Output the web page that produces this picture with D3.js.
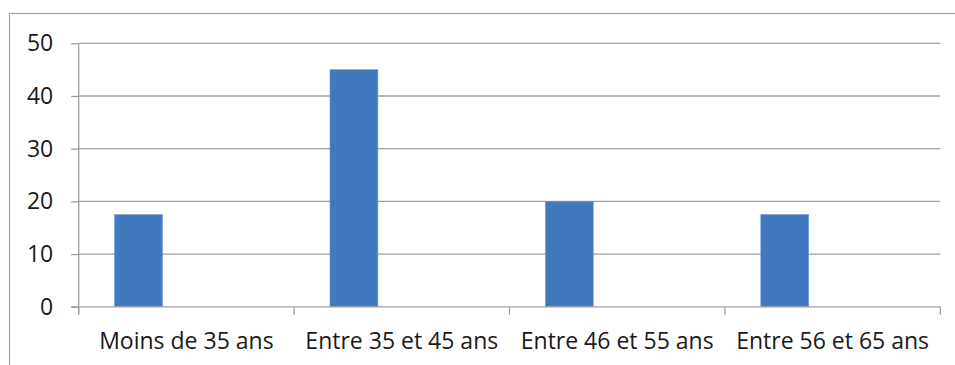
<!DOCTYPE html>
<html>
<head>
<meta charset="utf-8">
<script src="https://cdn.jsdelivr.net/npm/d3@7"></script>
<style>
  html, body { margin: 0; padding: 0; background: #fff; }
  svg { display: block; }
  text { font-family: "Open Sans", sans-serif; font-size: 23px; fill: #1a1a1a; }
</style>
</head>
<body>
<svg id="chart" width="955" height="365"></svg>
<script>
const categories = ["Moins de 35 ans", "Entre 35 et 45 ans", "Entre 46 et 55 ans", "Entre 56 et 65 ans"];
const seriesNames = ["Série1", "Série2", "Série3"];
const series1 = [17.5, 45, 20, 17.5];
const series2 = [0, 0, 0, 0];
const series3 = [0, 0, 0, 0];
const yTicks = [0, 10, 20, 30, 40, 50];

const svg = d3.select("#chart");
const gridColor = "#a0a0a3";

// outer frame
svg.append("rect")
  .attr("x", 9.5).attr("y", 13.5)
  .attr("width", 1000).attr("height", 400)
  .attr("fill", "none").attr("stroke", "#a6a6a6").attr("stroke-width", 1.2);

const pLeft = 78.7, pRight = 940.3, pTop = 43.3, pBottom = 306.8;

const y = d3.scaleLinear().domain([0, 50]).range([pBottom, pTop]);
const x = d3.scaleBand().domain(categories).range([pLeft, pRight]).padding(0);
const xs = d3.scaleBand().domain(seriesNames).range([0, x.bandwidth()])
  .paddingInner(0).paddingOuter(0.75);

// y ticks + labels
const yAxis = d3.axisLeft(y).tickValues(yTicks).tickSize(7.5).tickPadding(18).tickFormat(d3.format("d"));
const gy = svg.append("g").attr("transform", `translate(${pLeft},0)`).call(yAxis);
gy.select(".domain").remove();
gy.selectAll(".tick line").attr("stroke", gridColor).attr("stroke-width", 1.3);
gy.selectAll(".tick text").attr("font-size", 23).attr("font-family", "Open Sans").attr("fill", "#1a1a1a");

// gridlines
svg.append("g").selectAll("line").data(yTicks.filter(d => d !== 0)).join("line")
  .attr("x1", pLeft).attr("x2", pRight)
  .attr("y1", d => y(d)).attr("y2", d => y(d))
  .attr("stroke", gridColor).attr("stroke-width", 1.3);

// bars
const allSeries = [series1, series2, series3];
const barG = svg.append("g");
allSeries.forEach((vals, si) => {
  barG.selectAll(null).data(categories.map((c, i) => ({c, v: vals[i]})).filter(d => d.v > 0)).join("rect")
    .attr("x", d => x(d.c) + xs(seriesNames[si]))
    .attr("y", d => y(d.v))
    .attr("width", xs.bandwidth())
    .attr("height", d => y(0) - y(d.v))
    .attr("fill", "#4079bd")
    .attr("stroke", "#6f9ad0").attr("stroke-width", 0.6);
});

// y axis line
svg.append("line").attr("x1", pLeft).attr("x2", pLeft).attr("y1", pTop).attr("y2", pBottom + 7.5)
  .attr("stroke", gridColor).attr("stroke-width", 1.3);
// x axis line
svg.append("line").attr("x1", pLeft - 7.5).attr("x2", pRight).attr("y1", pBottom).attr("y2", pBottom)
  .attr("stroke", gridColor).attr("stroke-width", 1.3);

// x ticks at category boundaries
const bounds = categories.map(c => x(c)).concat([pRight]);
svg.append("g").selectAll("line").data(bounds).join("line")
  .attr("x1", d => d).attr("x2", d => d)
  .attr("y1", pBottom).attr("y2", pBottom + 8)
  .attr("stroke", gridColor).attr("stroke-width", 1.3);

// x labels
svg.append("g").selectAll("text").data(categories).join("text")
  .attr("x", d => x(d) + x.bandwidth() / 2)
  .attr("y", 349)
  .attr("text-anchor", "middle")
  .text(d => d);
</script>
</body>
</html>
